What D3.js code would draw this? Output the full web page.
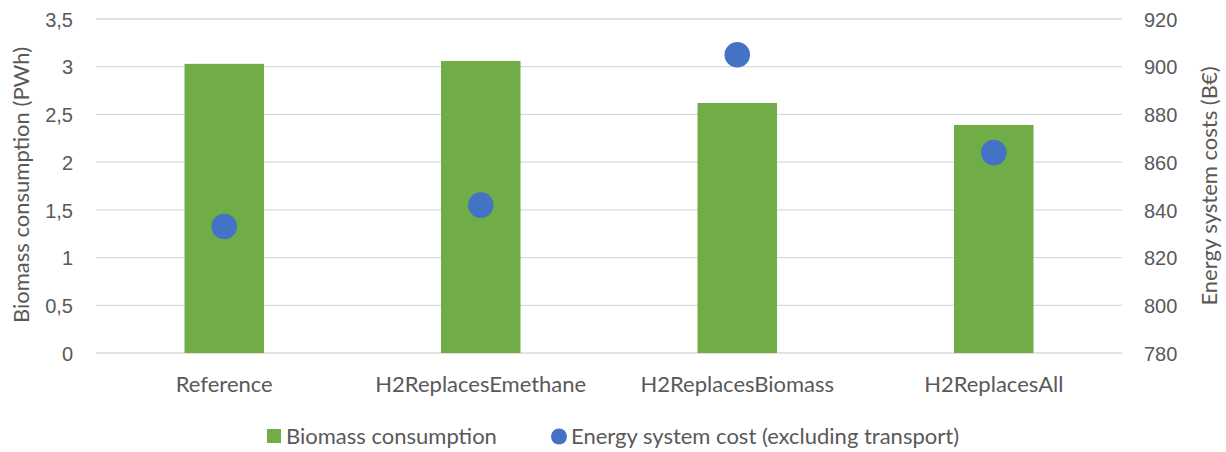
<!DOCTYPE html>
<html>
<head>
<meta charset="utf-8">
<script src="https://cdn.jsdelivr.net/npm/d3@7"></script>
<style>
  html, body { margin: 0; padding: 0; background: #fff; }
  svg { display: block; font-family: Lato, "Open Sans", sans-serif; }
</style>
</head>
<body>
<svg id="chart" width="1226" height="452"></svg>
<script>
// Scenarios and their results
const categories = ["Reference", "H2ReplacesEmethane", "H2ReplacesBiomass", "H2ReplacesAll"];
const biomassPWh = [3.03, 3.06, 2.62, 2.39];
const systemCostBEur = [833, 842, 905, 864];
const leftTicks = [0, 0.5, 1, 1.5, 2, 2.5, 3, 3.5];
const rightTicks = [780, 800, 820, 840, 860, 880, 900, 920];

const svg = d3.select("#chart");
const textColor = "#595959";
const margin = { left: 96, right: 104, top: 19, bottom: 99 };
const width = 1226, height = 452;

const x = d3.scaleBand().domain(categories)
  .range([margin.left, width - margin.right]).paddingInner(0.69).paddingOuter(0.345);
const yL = d3.scaleLinear().domain([0, 3.5]).range([height - margin.bottom, margin.top]);
const yR = d3.scaleLinear().domain([780, 920]).range([height - margin.bottom, margin.top]);

const fmt = d => String(d).replace(".", ",");

// horizontal gridlines
svg.append("g").selectAll("line").data(leftTicks).join("line")
  .attr("x1", margin.left).attr("x2", width - margin.right)
  .attr("y1", d => yL(d)).attr("y2", d => yL(d))
  .attr("stroke", "#D9D9D9").attr("stroke-width", 1.3);

// left axis
const axL = svg.append("g").attr("transform", `translate(${margin.left - 23},0)`)
  .call(d3.axisLeft(yL).tickValues(leftTicks).tickFormat(fmt).tickSize(0).tickPadding(0));
axL.select(".domain").remove();
axL.selectAll("text").attr("fill", textColor).style("font-size", "20px").attr("dy", "0.36em");

// right axis
const axR = svg.append("g").attr("transform", `translate(${width - margin.right + 22},0)`)
  .call(d3.axisRight(yR).tickValues(rightTicks).tickSize(0).tickPadding(0));
axR.select(".domain").remove();
axR.selectAll("text").attr("fill", textColor).style("font-size", "20px").attr("dy", "0.36em");

// bars
svg.append("g").selectAll("rect").data(categories).join("rect")
  .attr("x", d => x(d)).attr("width", x.bandwidth())
  .attr("y", (d, i) => yL(biomassPWh[i]))
  .attr("height", (d, i) => yL(0) - yL(biomassPWh[i]))
  .attr("fill", "#70AD47");

// cost markers
svg.append("g").selectAll("circle").data(categories).join("circle")
  .attr("cx", d => x(d) + x.bandwidth() / 2)
  .attr("cy", (d, i) => yR(systemCostBEur[i]))
  .attr("r", 12.8).attr("fill", "#4472C4");

// category labels
svg.append("g").selectAll("text").data(categories).join("text")
  .attr("x", d => x(d) + x.bandwidth() / 2).attr("y", 392)
  .attr("text-anchor", "middle").attr("fill", textColor).style("font-size", "22px")
  .text(d => d);

// axis titles
svg.append("text").attr("transform", `translate(29,185) rotate(-90)`)
  .attr("text-anchor", "middle").attr("fill", textColor).style("font-size", "22px")
  .text("Biomass consumption (PWh)");
svg.append("text").attr("transform", `translate(1217,186) rotate(-90)`)
  .attr("text-anchor", "middle").attr("fill", textColor).style("font-size", "22px")
  .text("Energy system costs (B€)");

// legend
const lg = svg.append("g");
lg.append("rect").attr("x", 267).attr("y", 429).attr("width", 14).attr("height", 14).attr("fill", "#70AD47");
lg.append("text").attr("x", 286).attr("y", 444).attr("fill", textColor).style("font-size", "22px")
  .text("Biomass consumption");
lg.append("circle").attr("cx", 559).attr("cy", 436.5).attr("r", 8).attr("fill", "#4472C4");
lg.append("text").attr("x", 571).attr("y", 444).attr("fill", textColor).style("font-size", "22px")
  .text("Energy system cost (excluding transport)");
</script>
</body>
</html>
